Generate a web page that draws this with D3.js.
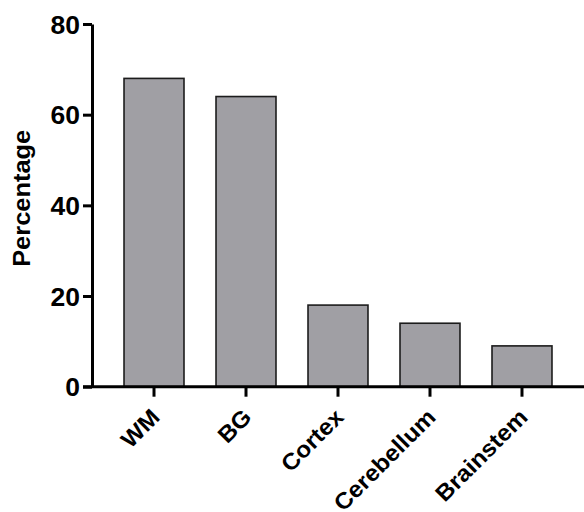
<!DOCTYPE html>
<html>
<head>
<meta charset="utf-8">
<script src="https://cdn.jsdelivr.net/npm/d3@7"></script>
<style>
  body { margin: 0; background: #fff; }
  text { font-family: "Liberation Sans", Arial, sans-serif; font-weight: bold; fill: #000; }
</style>
</head>
<body>
<div id="chart"></div>
<script>
// data
const regions = ["WM", "BG", "Cortex", "Cerebellum", "Brainstem"]
const percentages = [68, 64, 18, 14, 9]
const yTicks = [0, 20, 40, 60, 80]

const width = 584
const height = 512
const stretch = 1.06   // the original glyphs run a touch wider than Arial

const svg = d3.select("#chart")
  .append("svg")
  .attr("width", width)
  .attr("height", height)

const x = d3.scaleBand()
  .domain(regions)
  .range([92, 584])
  .paddingInner(0.348)
  .paddingOuter(0.348)

const y = d3.scaleLinear()
  .domain([0, 80])
  .range([386.7, 24])

// bars
svg.append("g")
  .selectAll("rect")
  .data(regions)
  .join("rect")
  .attr("x", d => x(d))
  .attr("width", x.bandwidth())
  .attr("y", (d, i) => y(percentages[i]))
  .attr("height", (d, i) => y(0) - y(percentages[i]))
  .attr("fill", "#a09fa4")
  .attr("stroke", "#1c1c1c")
  .attr("stroke-width", 1.6)

// y axis
const yAxis = svg.append("g")
  .attr("transform", "translate(" + x.range()[0] + ",0)")
  .call(d3.axisLeft(y).tickValues(yTicks).tickSize(9).tickSizeOuter(0))

yAxis.select(".domain").attr("stroke", "#000").attr("stroke-width", 3)
yAxis.selectAll(".tick line").attr("stroke", "#000").attr("stroke-width", 3)
yAxis.selectAll(".tick text")
  .attr("x", 0)
  .attr("dy", "0.36em")
  .attr("transform", "translate(-12,0) scale(" + stretch + ",1)")
  .style("font-size", "25px")

// x axis
const xAxis = svg.append("g")
  .attr("transform", "translate(0," + y(0) + ")")
  .call(d3.axisBottom(x).tickSize(10).tickSizeOuter(0))

xAxis.select(".domain")
  .attr("d", "M" + (x.range()[0] - 9) + ",0H" + x.range()[1])
  .attr("stroke", "#000").attr("stroke-width", 3)
xAxis.selectAll(".tick line").attr("stroke", "#000").attr("stroke-width", 3)
xAxis.selectAll(".tick text")
  .attr("x", 0)
  .attr("y", 0)
  .attr("dy", 0)
  .attr("text-anchor", "end")
  .attr("transform", "translate(7,32) rotate(-45) scale(" + stretch + ",1)")
  .style("font-size", "23px")

// y label
svg.append("text")
  .attr("text-anchor", "middle")
  .attr("transform", "translate(30,198.3) rotate(-90) scale(" + stretch + ",1)")
  .style("font-size", "24px")
  .text("Percentage")
</script>
</body>
</html>
